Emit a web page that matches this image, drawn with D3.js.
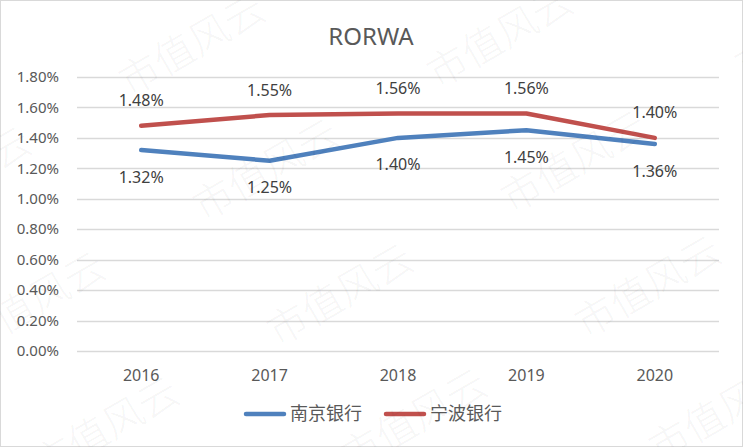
<!DOCTYPE html>
<html>
<head>
<meta charset="utf-8">
<script src="https://cdn.jsdelivr.net/npm/d3@7"></script>
<style>
  html, body { margin: 0; padding: 0; background: #fff; }
  svg { display: block; }
  text { font-family: "Noto Sans", "Noto Sans CJK SC", sans-serif; }
</style>
</head>
<body>
<div id="chart"></div>
<script>
// 数据
const years = ["2016", "2017", "2018", "2019", "2020"];
const nanjing = [1.32, 1.25, 1.40, 1.45, 1.36];
const ningbo = [1.48, 1.55, 1.56, 1.56, 1.40];
const yTicks = [0, 0.2, 0.4, 0.6, 0.8, 1.0, 1.2, 1.4, 1.6, 1.8];
const seriesNames = ["南京银行", "宁波银行"];

const width = 743, height = 447;
const margin = { top: 77, right: 24, bottom: 96, left: 77 };

const svg = d3.select("#chart").append("svg")
  .attr("width", width)
  .attr("height", height);

// 边框
svg.append("rect")
  .attr("x", 0.5).attr("y", 0.5)
  .attr("width", width - 1).attr("height", height - 1)
  .attr("fill", "#fff")
  .attr("stroke", "#d9d9d9");

const x = d3.scaleBand()
  .domain(years)
  .range([margin.left, width - margin.right]);

const y = d3.scaleLinear()
  .domain([0, 1.8])
  .range([height - margin.bottom, margin.top]);

// 网格线
svg.append("g")
  .selectAll("line")
  .data(yTicks)
  .join("line")
  .attr("x1", margin.left)
  .attr("x2", width - margin.right)
  .attr("y1", d => Math.round(y(d)) + 0.5)
  .attr("y2", d => Math.round(y(d)) + 0.5)
  .attr("stroke", "#d9d9d9")
  .attr("stroke-width", 1.5);

// y 轴标签
svg.append("g")
  .selectAll("text")
  .data(yTicks)
  .join("text")
  .attr("x", 59)
  .attr("y", d => y(d))
  .attr("dy", "0.35em")
  .attr("text-anchor", "end")
  .attr("font-size", "15px")
  .attr("fill", "#595959")
  .text(d => d.toFixed(2) + "%");

// x 轴标签
svg.append("g")
  .selectAll("text")
  .data(years)
  .join("text")
  .attr("x", d => x(d) + x.bandwidth() / 2)
  .attr("y", 375)
  .attr("dy", "0.35em")
  .attr("text-anchor", "middle")
  .attr("font-size", "16px")
  .attr("fill", "#595959")
  .text(d => d);

// 标题
svg.append("text")
  .attr("x", 371)
  .attr("y", 45)
  .attr("text-anchor", "middle")
  .attr("font-size", "24px")
  .attr("fill", "#595959")
  .text("RORWA");

const line = d3.line()
  .x((d, i) => x(years[i]) + x.bandwidth() / 2)
  .y(d => y(d));

const series = [
  { name: seriesNames[0], values: nanjing, color: "#4f81bd", offset: 27 },
  { name: seriesNames[1], values: ningbo, color: "#c0504d", offset: -25 }
];

series.forEach(s => {
  svg.append("path")
    .datum(s.values)
    .attr("d", line)
    .attr("fill", "none")
    .attr("stroke", s.color)
    .attr("stroke-width", 4.5)
    .attr("stroke-linecap", "round")
    .attr("stroke-linejoin", "round");

  svg.append("g")
    .selectAll("text")
    .data(s.values)
    .join("text")
    .attr("x", (d, i) => x(years[i]) + x.bandwidth() / 2)
    .attr("y", d => y(d) + s.offset)
    .attr("dy", "0.35em")
    .attr("text-anchor", "middle")
    .attr("font-size", "16px")
    .attr("fill", "#404040")
    .text(d => d.toFixed(2) + "%");
});

// 图例
const legend = svg.append("g");
const legendX = [244, 384];
series.forEach((s, i) => {
  legend.append("line")
    .attr("x1", legendX[i] + 2).attr("x2", legendX[i] + 40)
    .attr("y1", 414).attr("y2", 414)
    .attr("stroke", s.color)
    .attr("stroke-width", 4.5)
    .attr("stroke-linecap", "round");
  legend.append("text")
    .attr("x", legendX[i] + 46)
    .attr("y", 414)
    .attr("dy", "0.36em")
    .attr("font-size", "18px")
    .attr("font-family", "Noto Sans CJK SC")
    .attr("fill", "#595959")
    .text(s.name);
});

// 水印
const wm = svg.append("g").attr("pointer-events", "none");
for (let i = -2; i <= 3; i++) {
  for (let j = -1; j <= 4; j++) {
    const cx = 192 + i * 308 + j * 74;
    const cy = 45 - i * 8 + j * 125;
    if (cx < -100 || cx > width + 100 || cy < -60 || cy > height + 60) continue;
    wm.append("text")
      .attr("transform", `translate(${cx},${cy}) rotate(-30)`)
      .attr("text-anchor", "middle")
      .attr("dy", "0.35em")
      .attr("font-size", "40px")
      .attr("font-family", "Noto Sans CJK SC")
      .attr("font-weight", 300)
      .attr("fill", "#000")
      .attr("fill-opacity", 0.05)
      .text("市值风云");
  }
}
</script>
</body>
</html>
